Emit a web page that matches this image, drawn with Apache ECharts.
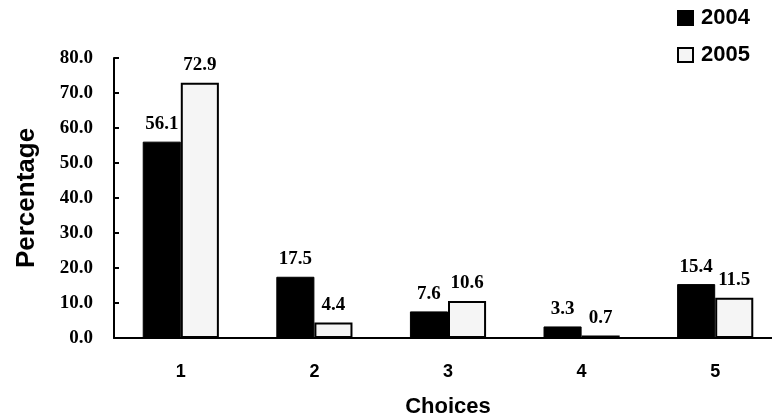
<!DOCTYPE html>
<html>
<head>
<meta charset="utf-8">
<script src="https://cdn.jsdelivr.net/npm/echarts@6/dist/echarts.min.js"></script>
<style>
  html, body { margin: 0; padding: 0; background: #fff; }
  #chart { width: 772px; height: 419px; }
</style>
</head>
<body>
<div id="chart"></div>
<script>
// Survey answers by choice, percentage of respondents per year
const choices = ['1', '2', '3', '4', '5'];
const pct2004 = [56.1, 17.5, 7.6, 3.3, 15.4];
const pct2005 = [72.9, 4.4, 10.6, 0.7, 11.5];
const seriesNames = ['2004', '2005'];

const chart = echarts.init(document.getElementById('chart'), null, { renderer: 'canvas' });

const serif = '"Liberation Serif", "Times New Roman", serif';
const sans = '"Liberation Sans", Arial, sans-serif';

const valueLabel = {
  show: true,
  position: 'top',
  distance: 8,
  color: '#000',
  fontFamily: serif,
  fontWeight: 'bold',
  fontSize: 19,
  formatter: p => p.value.toFixed(1)
};

chart.setOption({
  animation: false,
  backgroundColor: '#fff',
  grid: {
    left: 114, top: 58, bottom: 81, right: -10,
    containLabel: false,
    outerBoundsMode: 'none'
  },
  legend: {
    orient: 'vertical',
    left: 677,
    top: 7,
    padding: 0,
    itemWidth: 15,
    itemHeight: 14,
    itemGap: 15,
    icon: 'rect',
    textStyle: { color: '#000', fontFamily: sans, fontWeight: 'bold', fontSize: 22, padding: [0, 0, 0, 3] },
    data: seriesNames
  },
  xAxis: {
    type: 'category',
    data: choices,
    name: 'Choices',
    nameLocation: 'middle',
    nameGap: 58,
    nameTextStyle: { color: '#000', fontFamily: sans, fontWeight: 'bold', fontSize: 22 },
    axisLine: { lineStyle: { color: '#000', width: 2 } },
    axisTick: { inside: true, length: 6, lineStyle: { color: '#000', width: 2 } },
    axisLabel: { color: '#000', fontFamily: sans, fontWeight: 'bold', fontSize: 18, margin: 25 }
  },
  yAxis: {
    type: 'value',
    min: 0,
    max: 80,
    interval: 10,
    name: 'Percentage',
    nameLocation: 'middle',
    nameGap: 74,
    nameTextStyle: { color: '#000', fontFamily: sans, fontWeight: 'bold', fontSize: 26 },
    axisLine: { show: true, lineStyle: { color: '#000', width: 2 } },
    axisTick: { show: true, inside: true, length: 5, lineStyle: { color: '#000', width: 2 } },
    splitLine: { show: false },
    axisLabel: {
      color: '#000', fontFamily: serif, fontWeight: 'bold', fontSize: 19, margin: 21,
      formatter: v => v.toFixed(1)
    }
  },
  series: [
    {
      name: seriesNames[0],
      type: 'bar',
      data: pct2004,
      barGap: '0%',
      barCategoryGap: '43%',
      itemStyle: { color: '#000', borderColor: '#000', borderWidth: 1 },
      label: valueLabel
    },
    {
      name: seriesNames[1],
      type: 'bar',
      data: pct2005,
      itemStyle: { color: '#f5f5f5', borderColor: '#000', borderWidth: 2 },
      label: valueLabel
    }
  ]
});
</script>
</body>
</html>
